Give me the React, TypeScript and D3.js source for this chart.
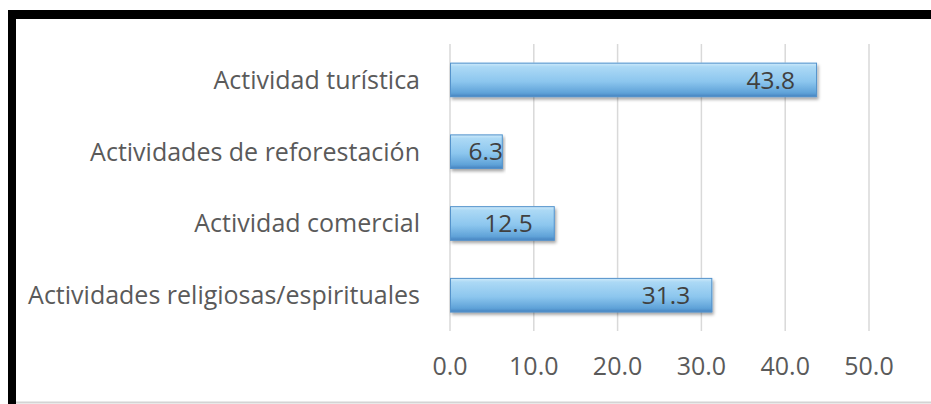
import React from "react";
import * as d3 from "d3";

// chart values
const categories = [
  "Actividad turística",
  "Actividades de reforestación",
  "Actividad comercial",
  "Actividades religiosas/espirituales",
];
const values = [43.8, 6.3, 12.5, 31.3];
const xTicks = [0, 10, 20, 30, 40, 50];

const W = 931;
const H = 404;
const margin = { top: 44, right: 62, bottom: 73, left: 450 };

export default function App() {
  const innerH = H - margin.top - margin.bottom;

  const x = d3.scaleLinear().domain([0, 50]).range([0, 419]);
  const y = d3.scaleBand().domain(categories).range([0, innerH]).paddingInner(0.52).paddingOuter(0.26);
  const fmt = d3.format(".1f");
  const font = "'Open Sans', sans-serif";

  return (
    <svg
      width={W}
      height={H}
      style={{ position: "absolute", left: 0, top: 0, background: "#fff" }}
    >
      <defs>
        <linearGradient id="barFill" x1="0" y1="0" x2="0" y2="1">
          <stop offset="0%" stopColor="#d3ecfb" />
          <stop offset="12%" stopColor="#acd9f5" />
          <stop offset="55%" stopColor="#8cc6ee" />
          <stop offset="88%" stopColor="#5fa2d8" />
          <stop offset="100%" stopColor="#437fbd" />
        </linearGradient>
        <filter id="shadow" x="-5%" y="-20%" width="110%" height="160%">
          <feDropShadow dx="1.5" dy="2.5" stdDeviation="1.6" floodColor="#000" floodOpacity="0.35" />
        </filter>
      </defs>

      {/* frame */}
      <line x1={8} x2={W} y1={14.5} y2={14.5} stroke="#000" strokeWidth={9} />
      <line x1={12} x2={12} y1={10} y2={H} stroke="#000" strokeWidth={8} />
      <line x1={16} x2={W} y1={402.5} y2={402.5} stroke="#d4d4d4" strokeWidth={2} />

      <g transform={`translate(${margin.left},${margin.top})`}>
        {/* gridlines */}
        {xTicks.map((t) => (
          <line
            key={t}
            x1={x(t)}
            x2={x(t)}
            y1={0}
            y2={innerH}
            stroke="#d9d9d9"
            strokeWidth={1.5}
          />
        ))}

        {/* bars */}
        {categories.map((c, i) => {
          const by = y(c) as number;
          const bw = x(values[i]);
          return (
            <g key={c}>
              <rect
                x={x(0)}
                y={by}
                width={bw}
                height={y.bandwidth()}
                fill="url(#barFill)"
                filter="url(#shadow)"
              />
              <rect x={x(0) + 0.5} y={by + 0.5} width={bw - 1} height={y.bandwidth() - 1} fill="none" stroke="#5593cb" strokeWidth={1} />
              <text
                x={Math.max(bw - 22, 53)}
                y={by + y.bandwidth() / 2}
                dy="0.36em"
                textAnchor="end"
                fontFamily={font}
                fontSize={24.5}
                fill="#404040"
              >
                {fmt(values[i])}
              </text>
              <text
                x={-30}
                y={by + y.bandwidth() / 2}
                dy="0.36em"
                textAnchor="end"
                fontFamily={font}
                fontSize={25}
                fill="#5a5a5a"
              >
                {c}
              </text>
            </g>
          );
        })}

        {/* x tick labels */}
        {xTicks.map((t) => (
          <text
            key={t}
            x={x(t)}
            y={innerH + 35}
            dy="0.36em"
            textAnchor="middle"
            fontFamily={font}
            fontSize={25}
            fill="#5a5a5a"
          >
            {fmt(t)}
          </text>
        ))}
      </g>
    </svg>
  );
}
